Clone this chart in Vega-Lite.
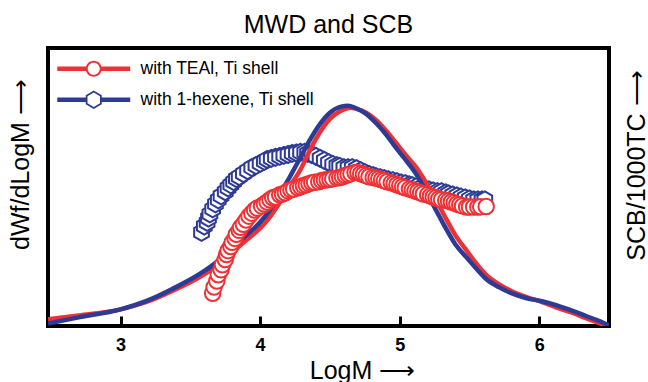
{
  "$schema": "https://vega.github.io/schema/vega-lite/v6.json",
  "width": 561,
  "height": 278,
  "autosize": {"type": "none"},
  "padding": {"left": 48, "top": 48, "right": 39, "bottom": 56},
  "background": "white",
  "config": {"view": {"stroke": "black", "strokeWidth": 4}, "font": "Liberation Sans"},
  "title": {"text": "MWD and SCB", "fontSize": 25, "fontWeight": "normal", "font": "Liberation Sans", "color": "black", "offset": 10},
  "datasets": {
    "mwdRed": [
      {"logM": 2.48, "w": 2.4, "series": "with TEAl, Ti shell"},
      {"logM": 2.70, "w": 3.8, "series": "with TEAl, Ti shell"},
      {"logM": 3.00, "w": 6.0, "series": "with TEAl, Ti shell"},
      {"logM": 3.20, "w": 8.9, "series": "with TEAl, Ti shell"},
      {"logM": 3.37, "w": 12.6, "series": "with TEAl, Ti shell"},
      {"logM": 3.57, "w": 17.7, "series": "with TEAl, Ti shell"},
      {"logM": 3.69, "w": 21.7, "series": "with TEAl, Ti shell"},
      {"logM": 3.78, "w": 25.7, "series": "with TEAl, Ti shell"},
      {"logM": 3.89, "w": 30.4, "series": "with TEAl, Ti shell"},
      {"logM": 4.00, "w": 35.2, "series": "with TEAl, Ti shell"},
      {"logM": 4.07, "w": 39.2, "series": "with TEAl, Ti shell"},
      {"logM": 4.14, "w": 44.3, "series": "with TEAl, Ti shell"},
      {"logM": 4.21, "w": 50.1, "series": "with TEAl, Ti shell"},
      {"logM": 4.29, "w": 56.3, "series": "with TEAl, Ti shell"},
      {"logM": 4.36, "w": 63.6, "series": "with TEAl, Ti shell"},
      {"logM": 4.43, "w": 69.8, "series": "with TEAl, Ti shell"},
      {"logM": 4.50, "w": 74.5, "series": "with TEAl, Ti shell"},
      {"logM": 4.58, "w": 77.4, "series": "with TEAl, Ti shell"},
      {"logM": 4.65, "w": 78.5, "series": "with TEAl, Ti shell"},
      {"logM": 4.69, "w": 78.1, "series": "with TEAl, Ti shell"},
      {"logM": 4.76, "w": 76.7, "series": "with TEAl, Ti shell"},
      {"logM": 4.83, "w": 74.1, "series": "with TEAl, Ti shell"},
      {"logM": 4.90, "w": 70.4, "series": "with TEAl, Ti shell"},
      {"logM": 4.97, "w": 66.1, "series": "with TEAl, Ti shell"},
      {"logM": 5.04, "w": 61.7, "series": "with TEAl, Ti shell"},
      {"logM": 5.12, "w": 57.0, "series": "with TEAl, Ti shell"},
      {"logM": 5.19, "w": 51.5, "series": "with TEAl, Ti shell"},
      {"logM": 5.26, "w": 45.4, "series": "with TEAl, Ti shell"},
      {"logM": 5.33, "w": 38.8, "series": "with TEAl, Ti shell"},
      {"logM": 5.40, "w": 32.6, "series": "with TEAl, Ti shell"},
      {"logM": 5.48, "w": 27.1, "series": "with TEAl, Ti shell"},
      {"logM": 5.55, "w": 22.4, "series": "with TEAl, Ti shell"},
      {"logM": 5.62, "w": 18.4, "series": "with TEAl, Ti shell"},
      {"logM": 5.71, "w": 15.1, "series": "with TEAl, Ti shell"},
      {"logM": 5.80, "w": 12.6, "series": "with TEAl, Ti shell"},
      {"logM": 5.91, "w": 10.4, "series": "with TEAl, Ti shell"},
      {"logM": 6.02, "w": 8.6, "series": "with TEAl, Ti shell"},
      {"logM": 6.12, "w": 6.7, "series": "with TEAl, Ti shell"},
      {"logM": 6.23, "w": 4.9, "series": "with TEAl, Ti shell"},
      {"logM": 6.34, "w": 2.7, "series": "with TEAl, Ti shell"},
      {"logM": 6.44, "w": 0.9, "series": "with TEAl, Ti shell"},
      {"logM": 6.50, "w": 0.0, "series": "with TEAl, Ti shell"}
    ],
    "mwdBlue": [
      {"logM": 2.48, "w": 0.9, "series": "with 1-hexene, Ti shell"},
      {"logM": 2.70, "w": 3.1, "series": "with 1-hexene, Ti shell"},
      {"logM": 3.00, "w": 6.0, "series": "with 1-hexene, Ti shell"},
      {"logM": 3.20, "w": 9.3, "series": "with 1-hexene, Ti shell"},
      {"logM": 3.37, "w": 13.3, "series": "with 1-hexene, Ti shell"},
      {"logM": 3.57, "w": 18.8, "series": "with 1-hexene, Ti shell"},
      {"logM": 3.69, "w": 23.1, "series": "with 1-hexene, Ti shell"},
      {"logM": 3.78, "w": 27.5, "series": "with 1-hexene, Ti shell"},
      {"logM": 3.89, "w": 32.2, "series": "with 1-hexene, Ti shell"},
      {"logM": 4.00, "w": 37.3, "series": "with 1-hexene, Ti shell"},
      {"logM": 4.07, "w": 41.7, "series": "with 1-hexene, Ti shell"},
      {"logM": 4.14, "w": 47.2, "series": "with 1-hexene, Ti shell"},
      {"logM": 4.21, "w": 53.4, "series": "with 1-hexene, Ti shell"},
      {"logM": 4.29, "w": 60.7, "series": "with 1-hexene, Ti shell"},
      {"logM": 4.36, "w": 67.2, "series": "with 1-hexene, Ti shell"},
      {"logM": 4.43, "w": 72.7, "series": "with 1-hexene, Ti shell"},
      {"logM": 4.50, "w": 76.7, "series": "with 1-hexene, Ti shell"},
      {"logM": 4.58, "w": 78.9, "series": "with 1-hexene, Ti shell"},
      {"logM": 4.63, "w": 79.2, "series": "with 1-hexene, Ti shell"},
      {"logM": 4.68, "w": 78.5, "series": "with 1-hexene, Ti shell"},
      {"logM": 4.76, "w": 76.3, "series": "with 1-hexene, Ti shell"},
      {"logM": 4.83, "w": 73.0, "series": "with 1-hexene, Ti shell"},
      {"logM": 4.90, "w": 69.0, "series": "with 1-hexene, Ti shell"},
      {"logM": 4.97, "w": 64.3, "series": "with 1-hexene, Ti shell"},
      {"logM": 5.04, "w": 59.9, "series": "with 1-hexene, Ti shell"},
      {"logM": 5.12, "w": 54.5, "series": "with 1-hexene, Ti shell"},
      {"logM": 5.19, "w": 48.3, "series": "with 1-hexene, Ti shell"},
      {"logM": 5.26, "w": 41.7, "series": "with 1-hexene, Ti shell"},
      {"logM": 5.33, "w": 35.2, "series": "with 1-hexene, Ti shell"},
      {"logM": 5.40, "w": 29.3, "series": "with 1-hexene, Ti shell"},
      {"logM": 5.48, "w": 24.6, "series": "with 1-hexene, Ti shell"},
      {"logM": 5.55, "w": 20.6, "series": "with 1-hexene, Ti shell"},
      {"logM": 5.62, "w": 16.9, "series": "with 1-hexene, Ti shell"},
      {"logM": 5.71, "w": 14.0, "series": "with 1-hexene, Ti shell"},
      {"logM": 5.80, "w": 11.8, "series": "with 1-hexene, Ti shell"},
      {"logM": 5.91, "w": 10.0, "series": "with 1-hexene, Ti shell"},
      {"logM": 6.02, "w": 8.9, "series": "with 1-hexene, Ti shell"},
      {"logM": 6.12, "w": 7.5, "series": "with 1-hexene, Ti shell"},
      {"logM": 6.23, "w": 5.6, "series": "with 1-hexene, Ti shell"},
      {"logM": 6.34, "w": 3.5, "series": "with 1-hexene, Ti shell"},
      {"logM": 6.44, "w": 1.6, "series": "with 1-hexene, Ti shell"},
      {"logM": 6.50, "w": 0.2, "series": "with 1-hexene, Ti shell"}
    ],
    "scbRed": [
      {"logM": 3.66, "scb": 11.8}, {"logM": 3.67, "scb": 14.0}, {"logM": 3.69, "scb": 16.2}, {"logM": 3.70, "scb": 18.4},
      {"logM": 3.72, "scb": 20.2}, {"logM": 3.73, "scb": 22.0}, {"logM": 3.75, "scb": 23.9}, {"logM": 3.76, "scb": 25.7},
      {"logM": 3.77, "scb": 27.1}, {"logM": 3.79, "scb": 28.6}, {"logM": 3.80, "scb": 30.1}, {"logM": 3.82, "scb": 31.5},
      {"logM": 3.83, "scb": 33.0}, {"logM": 3.85, "scb": 34.4}, {"logM": 3.86, "scb": 35.5}, {"logM": 3.88, "scb": 36.6},
      {"logM": 3.90, "scb": 38.1}, {"logM": 3.92, "scb": 39.5}, {"logM": 3.94, "scb": 40.6}, {"logM": 3.96, "scb": 41.7},
      {"logM": 3.98, "scb": 42.4}, {"logM": 4.01, "scb": 43.2}, {"logM": 4.03, "scb": 43.9}, {"logM": 4.05, "scb": 44.6},
      {"logM": 4.07, "scb": 45.4}, {"logM": 4.09, "scb": 46.1}, {"logM": 4.11, "scb": 46.4}, {"logM": 4.14, "scb": 47.2},
      {"logM": 4.16, "scb": 47.5}, {"logM": 4.18, "scb": 47.9}, {"logM": 4.20, "scb": 48.6}, {"logM": 4.22, "scb": 49.0},
      {"logM": 4.24, "scb": 49.3}, {"logM": 4.27, "scb": 49.7}, {"logM": 4.29, "scb": 50.1}, {"logM": 4.31, "scb": 50.5},
      {"logM": 4.33, "scb": 50.8}, {"logM": 4.35, "scb": 51.2}, {"logM": 4.37, "scb": 51.5}, {"logM": 4.39, "scb": 51.7},
      {"logM": 4.42, "scb": 51.9}, {"logM": 4.44, "scb": 52.3}, {"logM": 4.46, "scb": 52.5}, {"logM": 4.48, "scb": 52.6},
      {"logM": 4.50, "scb": 52.8}, {"logM": 4.52, "scb": 53.0}, {"logM": 4.55, "scb": 53.2}, {"logM": 4.57, "scb": 53.4},
      {"logM": 4.59, "scb": 53.7}, {"logM": 4.61, "scb": 54.1}, {"logM": 4.63, "scb": 54.5}, {"logM": 4.65, "scb": 54.8},
      {"logM": 4.68, "scb": 55.2}, {"logM": 4.70, "scb": 55.2}, {"logM": 4.72, "scb": 54.8}, {"logM": 4.74, "scb": 54.5},
      {"logM": 4.76, "scb": 54.1}, {"logM": 4.78, "scb": 53.7}, {"logM": 4.81, "scb": 53.4}, {"logM": 4.83, "scb": 53.2},
      {"logM": 4.85, "scb": 53.0}, {"logM": 4.87, "scb": 52.6}, {"logM": 4.89, "scb": 52.3}, {"logM": 4.91, "scb": 51.9},
      {"logM": 4.94, "scb": 51.5}, {"logM": 4.96, "scb": 51.2}, {"logM": 4.98, "scb": 50.8}, {"logM": 5.00, "scb": 50.5},
      {"logM": 5.02, "scb": 50.1}, {"logM": 5.04, "scb": 49.7}, {"logM": 5.07, "scb": 49.3}, {"logM": 5.09, "scb": 49.0},
      {"logM": 5.11, "scb": 48.6}, {"logM": 5.13, "scb": 48.3}, {"logM": 5.15, "scb": 47.9}, {"logM": 5.17, "scb": 47.5},
      {"logM": 5.20, "scb": 47.2}, {"logM": 5.22, "scb": 46.8}, {"logM": 5.24, "scb": 46.4}, {"logM": 5.26, "scb": 46.1},
      {"logM": 5.28, "scb": 45.7}, {"logM": 5.30, "scb": 45.4}, {"logM": 5.33, "scb": 45.2}, {"logM": 5.35, "scb": 45.0},
      {"logM": 5.37, "scb": 44.6}, {"logM": 5.39, "scb": 44.3}, {"logM": 5.41, "scb": 43.9}, {"logM": 5.43, "scb": 43.6},
      {"logM": 5.45, "scb": 43.2}, {"logM": 5.48, "scb": 42.8}, {"logM": 5.50, "scb": 42.8}, {"logM": 5.53, "scb": 42.8},
      {"logM": 5.56, "scb": 42.8}, {"logM": 5.58, "scb": 42.9}, {"logM": 5.62, "scb": 43.0}
    ],
    "scbBlue": [
      {"logM": 3.58, "scb": 33.7}, {"logM": 3.60, "scb": 35.9}, {"logM": 3.62, "scb": 37.3}, {"logM": 3.63, "scb": 38.8},
      {"logM": 3.64, "scb": 40.3}, {"logM": 3.66, "scb": 42.1}, {"logM": 3.68, "scb": 43.9}, {"logM": 3.70, "scb": 45.4},
      {"logM": 3.72, "scb": 46.8}, {"logM": 3.75, "scb": 48.3}, {"logM": 3.77, "scb": 49.7}, {"logM": 3.79, "scb": 50.8},
      {"logM": 3.81, "scb": 51.9}, {"logM": 3.83, "scb": 53.0}, {"logM": 3.85, "scb": 53.7}, {"logM": 3.88, "scb": 54.8},
      {"logM": 3.91, "scb": 55.9}, {"logM": 3.94, "scb": 57.0}, {"logM": 3.97, "scb": 57.7}, {"logM": 4.00, "scb": 58.5},
      {"logM": 4.03, "scb": 59.2}, {"logM": 4.05, "scb": 59.9}, {"logM": 4.08, "scb": 60.3}, {"logM": 4.11, "scb": 60.7},
      {"logM": 4.14, "scb": 61.0}, {"logM": 4.17, "scb": 61.4}, {"logM": 4.20, "scb": 61.7}, {"logM": 4.23, "scb": 62.1},
      {"logM": 4.26, "scb": 62.3}, {"logM": 4.29, "scb": 62.5}, {"logM": 4.32, "scb": 62.5}, {"logM": 4.34, "scb": 62.1},
      {"logM": 4.37, "scb": 61.7}, {"logM": 4.40, "scb": 61.0}, {"logM": 4.43, "scb": 60.3}, {"logM": 4.46, "scb": 59.6},
      {"logM": 4.49, "scb": 58.8}, {"logM": 4.52, "scb": 58.1}, {"logM": 4.55, "scb": 57.7}, {"logM": 4.57, "scb": 57.4},
      {"logM": 4.60, "scb": 57.0}, {"logM": 4.63, "scb": 57.0}, {"logM": 4.66, "scb": 57.0}, {"logM": 4.69, "scb": 56.6},
      {"logM": 4.72, "scb": 55.9}, {"logM": 4.75, "scb": 55.2}, {"logM": 4.78, "scb": 54.5}, {"logM": 4.81, "scb": 54.1},
      {"logM": 4.83, "scb": 53.7}, {"logM": 4.86, "scb": 53.4}, {"logM": 4.89, "scb": 53.0}, {"logM": 4.92, "scb": 52.6},
      {"logM": 4.95, "scb": 52.3}, {"logM": 4.98, "scb": 51.9}, {"logM": 5.01, "scb": 51.5}, {"logM": 5.04, "scb": 51.2},
      {"logM": 5.07, "scb": 50.8}, {"logM": 5.09, "scb": 50.5}, {"logM": 5.12, "scb": 50.1}, {"logM": 5.15, "scb": 49.7},
      {"logM": 5.18, "scb": 49.3}, {"logM": 5.21, "scb": 49.0}, {"logM": 5.24, "scb": 48.6}, {"logM": 5.27, "scb": 48.3},
      {"logM": 5.30, "scb": 48.3}, {"logM": 5.33, "scb": 47.9}, {"logM": 5.35, "scb": 47.5}, {"logM": 5.38, "scb": 47.2},
      {"logM": 5.41, "scb": 46.8}, {"logM": 5.44, "scb": 46.4}, {"logM": 5.47, "scb": 46.1}, {"logM": 5.50, "scb": 45.7},
      {"logM": 5.53, "scb": 45.4}, {"logM": 5.56, "scb": 45.4}, {"logM": 5.59, "scb": 45.4}, {"logM": 5.61, "scb": 45.4}
    ]
  },
  "encoding": {
    "x": {
      "field": "logM", "type": "quantitative",
      "scale": {"domain": [2.48, 6.5], "nice": false, "zero": false},
      "axis": {
        "values": [3, 4, 5, 6], "format": "d", "domain": false, "grid": false, "zindex": 1,
        "ticks": true, "tickSize": -10, "tickWidth": 3, "tickColor": "black", "tickOpacity": 1,
        "labelFont": "Liberation Sans", "labelFontSize": 18, "labelFontWeight": "bold", "labelColor": "black", "labelPadding": 20,
        "title": "LogM ⟶", "titleFont": "Liberation Sans", "titleFontSize": 25, "titleFontWeight": "normal", "titleColor": "black",
        "titleX": 314, "titleY": 52, "titleBaseline": "alphabetic", "titleAlign": "center"
      }
    }
  },
  "layer": [
    {
      "data": {"name": "scbBlue"},
      "mark": {"type": "point", "shape": "M0,-1L0.866,-0.5L0.866,0.5L0,1L-0.866,0.5L-0.866,-0.5Z", "size": 289, "filled": false, "fill": "white", "fillOpacity": 1, "stroke": "#2E3B96", "strokeWidth": 2, "opacity": 1},
      "encoding": {
        "y": {
          "field": "scb", "type": "quantitative", "scale": {"domain": [0, 100], "nice": false},
          "axis": {"orient": "right", "labels": false, "ticks": false, "domain": false, "grid": false,
            "title": "SCB/1000TC ⟶", "titleFont": "Liberation Sans", "titleFontSize": 25, "titleFontWeight": "normal", "titleColor": "black",
            "titleX": 27, "titleY": 117, "titleAngle": 270, "titleBaseline": "middle", "titleAlign": "center"}
        }
      }
    },
    {
      "layer": [
        {
          "data": {"name": "mwdRed"},
          "mark": {"type": "line", "strokeWidth": 4.5, "interpolate": "monotone", "clip": true},
          "encoding": {
            "y": {"field": "w", "type": "quantitative", "scale": {"domain": [0, 100], "nice": false},
              "axis": {"orient": "left", "labels": false, "ticks": false, "domain": false, "grid": false,
                "title": "dWf/dLogM ⟶", "titleFont": "Liberation Sans", "titleFontSize": 25, "titleFontWeight": "normal", "titleColor": "black",
                "titleX": -28, "titleY": 116, "titleAngle": 270, "titleBaseline": "middle", "titleAlign": "center"}},
            "color": {
              "field": "series", "type": "nominal",
              "scale": {"domain": ["with TEAl, Ti shell", "with 1-hexene, Ti shell"], "range": ["#EE3135", "#2E3B96"]},
              "legend": {
                "orient": "none", "legendX": 37, "legendY": 12, "title": null,
                "labelFont": "Liberation Sans", "labelFontSize": 17.5, "labelColor": "black", "labelLimit": 400,
                "symbolSize": 256, "symbolStrokeWidth": 0, "labelOffset": 38, "rowPadding": 12,
                "encode": {
                  "symbols": {
                    "update": {
                      "shape": {"signal": "datum.value === 'with TEAl, Ti shell' ? 'M-4.56,-0.28H-0.9V0.28H-4.56Z M0.9,-0.28H4.56V0.28H0.9Z M1,0A1,1 0 1,1 -1,0A1,1 0 1,1 1,0Z M0.75,0A0.75,0.75 0 1,0 -0.75,0A0.75,0.75 0 1,0 0.75,0Z' : 'M-4.56,-0.28H-0.85V0.28H-4.56Z M0.85,-0.28H4.56V0.28H0.85Z M0,-1.15L1,-0.575L1,0.575L0,1.15L-1,0.575L-1,-0.575Z M0,-0.9L-0.78,-0.45L-0.78,0.45L0,0.9L0.78,0.45L0.78,-0.45Z'"},
                      "fill": {"signal": "datum.value === 'with TEAl, Ti shell' ? '#EE3135' : '#2E3B96'"},
                      "stroke": {"value": "transparent"},
                      "opacity": {"value": 1},
                      "fillOpacity": {"value": 1}
                    }
                  }
                }
              }
            }
          }
        },
        {
          "data": {"name": "mwdBlue"},
          "mark": {"type": "line", "strokeWidth": 4.5, "interpolate": "monotone", "clip": true},
          "encoding": {
            "y": {"field": "w", "type": "quantitative", "scale": {"domain": [0, 100], "nice": false}},
            "color": {"field": "series", "type": "nominal"}
          }
        },
        {
          "data": {"name": "scbRed"},
          "mark": {"type": "point", "shape": "circle", "size": 240, "filled": false, "fill": "white", "fillOpacity": 1, "stroke": "#EE3135", "strokeWidth": 2, "opacity": 1},
          "encoding": {
            "y": {"field": "scb", "type": "quantitative", "scale": {"domain": [0, 100], "nice": false}}
          }
        }
      ]
    }
  ],
  "resolve": {"scale": {"y": "independent"}}
}
